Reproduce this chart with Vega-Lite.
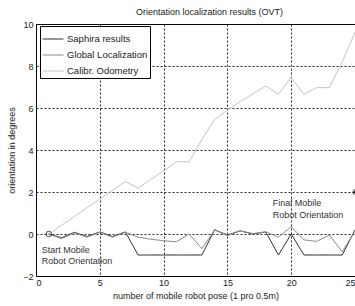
{
  "$schema": "https://vega.github.io/schema/vega-lite/v6.json",
  "autosize": "none",
  "width": 319,
  "height": 252,
  "padding": {"left": 36, "top": 24, "right": 0, "bottom": 30},
  "background": "white",
  "config": {
    "font": "Liberation Sans",
    "view": {"stroke": "black", "strokeWidth": 1},
    "axis": {"labelFont": "Liberation Sans", "labelFontSize": 9, "labelColor": "#222", "titleFont": "Liberation Sans", "titleFontSize": 9, "titleFontWeight": "normal", "titleColor": "#222", "grid": true, "gridColor": "#111", "gridDash": [2, 2], "gridWidth": 0.9, "gridOpacity": 1, "domain": false, "tickSize": 0}
  },
  "title": {"text": "Orientation localization results  (OVT)", "fontSize": 9, "fontWeight": "normal", "font": "Liberation Sans", "color": "#222", "offset": 3, "dx": 14},
  "datasets": {
    "lines": [
      {"pose": 1, "deg": 0, "series": "Saphira results"},
      {"pose": 2, "deg": -0.18, "series": "Saphira results"},
      {"pose": 3, "deg": 0.08, "series": "Saphira results"},
      {"pose": 4, "deg": -0.12, "series": "Saphira results"},
      {"pose": 5, "deg": 0.1, "series": "Saphira results"},
      {"pose": 6, "deg": -0.12, "series": "Saphira results"},
      {"pose": 7, "deg": 0.1, "series": "Saphira results"},
      {"pose": 8, "deg": -1, "series": "Saphira results"},
      {"pose": 9, "deg": -1, "series": "Saphira results"},
      {"pose": 10, "deg": -1, "series": "Saphira results"},
      {"pose": 11, "deg": -1, "series": "Saphira results"},
      {"pose": 12, "deg": -1, "series": "Saphira results"},
      {"pose": 13, "deg": -1, "series": "Saphira results"},
      {"pose": 14, "deg": 0.2, "series": "Saphira results"},
      {"pose": 15, "deg": -0.05, "series": "Saphira results"},
      {"pose": 16, "deg": 0.15, "series": "Saphira results"},
      {"pose": 17, "deg": 0, "series": "Saphira results"},
      {"pose": 18, "deg": 0.1, "series": "Saphira results"},
      {"pose": 19, "deg": -1, "series": "Saphira results"},
      {"pose": 20, "deg": 0, "series": "Saphira results"},
      {"pose": 21, "deg": -1, "series": "Saphira results"},
      {"pose": 22, "deg": -1, "series": "Saphira results"},
      {"pose": 23, "deg": -1, "series": "Saphira results"},
      {"pose": 24, "deg": -1, "series": "Saphira results"},
      {"pose": 25, "deg": 0.2, "series": "Saphira results"},
      {"pose": 1, "deg": 0, "series": "Global Localization"},
      {"pose": 2, "deg": -0.22, "series": "Global Localization"},
      {"pose": 3, "deg": 0.05, "series": "Global Localization"},
      {"pose": 4, "deg": -0.15, "series": "Global Localization"},
      {"pose": 5, "deg": 0.08, "series": "Global Localization"},
      {"pose": 6, "deg": -0.15, "series": "Global Localization"},
      {"pose": 7, "deg": 0.08, "series": "Global Localization"},
      {"pose": 8, "deg": -0.15, "series": "Global Localization"},
      {"pose": 9, "deg": -0.25, "series": "Global Localization"},
      {"pose": 10, "deg": -0.32, "series": "Global Localization"},
      {"pose": 11, "deg": -0.37, "series": "Global Localization"},
      {"pose": 12, "deg": 0, "series": "Global Localization"},
      {"pose": 13, "deg": -0.7, "series": "Global Localization"},
      {"pose": 14, "deg": 0.2, "series": "Global Localization"},
      {"pose": 15, "deg": -0.08, "series": "Global Localization"},
      {"pose": 16, "deg": 0.15, "series": "Global Localization"},
      {"pose": 17, "deg": 0.02, "series": "Global Localization"},
      {"pose": 18, "deg": 0.1, "series": "Global Localization"},
      {"pose": 19, "deg": -0.15, "series": "Global Localization"},
      {"pose": 20, "deg": 0.35, "series": "Global Localization"},
      {"pose": 21, "deg": -0.28, "series": "Global Localization"},
      {"pose": 22, "deg": -0.35, "series": "Global Localization"},
      {"pose": 23, "deg": -0.05, "series": "Global Localization"},
      {"pose": 24, "deg": -0.85, "series": "Global Localization"},
      {"pose": 25, "deg": 0.15, "series": "Global Localization"},
      {"pose": 1, "deg": 0, "series": "Calibr. Odometry"},
      {"pose": 7, "deg": 2.5, "series": "Calibr. Odometry"},
      {"pose": 8, "deg": 2.18, "series": "Calibr. Odometry"},
      {"pose": 9, "deg": 2.6, "series": "Calibr. Odometry"},
      {"pose": 10, "deg": 3.0, "series": "Calibr. Odometry"},
      {"pose": 11, "deg": 3.44, "series": "Calibr. Odometry"},
      {"pose": 12, "deg": 3.44, "series": "Calibr. Odometry"},
      {"pose": 13, "deg": 4.5, "series": "Calibr. Odometry"},
      {"pose": 14, "deg": 5.45, "series": "Calibr. Odometry"},
      {"pose": 15, "deg": 5.9, "series": "Calibr. Odometry"},
      {"pose": 16, "deg": 6.3, "series": "Calibr. Odometry"},
      {"pose": 17, "deg": 6.68, "series": "Calibr. Odometry"},
      {"pose": 18, "deg": 7.05, "series": "Calibr. Odometry"},
      {"pose": 19, "deg": 6.65, "series": "Calibr. Odometry"},
      {"pose": 20, "deg": 7.45, "series": "Calibr. Odometry"},
      {"pose": 21, "deg": 6.65, "series": "Calibr. Odometry"},
      {"pose": 22, "deg": 6.97, "series": "Calibr. Odometry"},
      {"pose": 23, "deg": 6.97, "series": "Calibr. Odometry"},
      {"pose": 24, "deg": 8.2, "series": "Calibr. Odometry"},
      {"pose": 25, "deg": 9.6, "series": "Calibr. Odometry"}
    ],
    "notes": [
      {"pose": 0.45, "deg": -0.75, "label": "Start Mobile"},
      {"pose": 0.45, "deg": -1.27, "label": "Robot Orientation"},
      {"pose": 18.55, "deg": 1.46, "label": "Final Mobile"},
      {"pose": 18.55, "deg": 0.92, "label": "Robot Orientation"}
    ],
    "start": [{"pose": 1, "deg": 0}],
    "final": [{"pose": 25, "deg": 2}]
  },
  "layer": [
    {
      "data": {"name": "lines"},
      "mark": {"type": "line", "strokeWidth": 1, "clip": true},
      "encoding": {
        "x": {"field": "pose", "type": "quantitative", "scale": {"domain": [0, 25], "nice": false}, "axis": {"values": [0, 5, 10, 15, 20, 25], "title": "number of mobile robot pose (1 pro 0.5m)", "titlePadding": 4, "labelPadding": 2}},
        "y": {"field": "deg", "type": "quantitative", "scale": {"domain": [-2, 10], "nice": false}, "axis": {"values": [-2, 0, 2, 4, 6, 8, 10], "title": "orientation in degrees", "titlePadding": 6, "labelPadding": 3}},
        "color": {"field": "series", "type": "nominal", "scale": {"domain": ["Saphira results", "Global Localization", "Calibr. Odometry"], "range": ["#333333", "#8c8c8c", "#c4c4c4"]},
          "legend": {"title": null, "orient": "none", "legendX": 4, "legendY": 2, "symbolType": "stroke", "symbolStrokeWidth": 1, "symbolSize": 441, "labelFontSize": 9.5, "labelFont": "Liberation Sans", "labelColor": "#222", "fillColor": "white", "strokeColor": "black", "padding": 2, "rowPadding": -7, "labelOffset": 3}},
        "detail": {"field": "series"}
      }
    },
    {
      "data": {"name": "notes"},
      "mark": {"type": "text", "align": "left", "baseline": "middle", "fontSize": 9, "font": "Liberation Sans", "color": "#333"},
      "encoding": {
        "x": {"field": "pose", "type": "quantitative"},
        "y": {"field": "deg", "type": "quantitative"},
        "text": {"field": "label"}
      }
    },
    {
      "data": {"name": "start"},
      "mark": {"type": "point", "shape": "circle", "filled": false, "color": "black", "strokeWidth": 1, "size": 30},
      "encoding": {
        "x": {"field": "pose", "type": "quantitative"},
        "y": {"field": "deg", "type": "quantitative"}
      }
    },
    {
      "data": {"name": "final"},
      "mark": {"type": "point", "shape": "M-1,0L1,0M0,-1L0,1M-0.7,-0.7L0.7,0.7M-0.7,0.7L0.7,-0.7", "filled": false, "color": "black", "strokeWidth": 1, "size": 40, "clip": false},
      "encoding": {
        "x": {"field": "pose", "type": "quantitative"},
        "y": {"field": "deg", "type": "quantitative"}
      }
    }
  ]
}
